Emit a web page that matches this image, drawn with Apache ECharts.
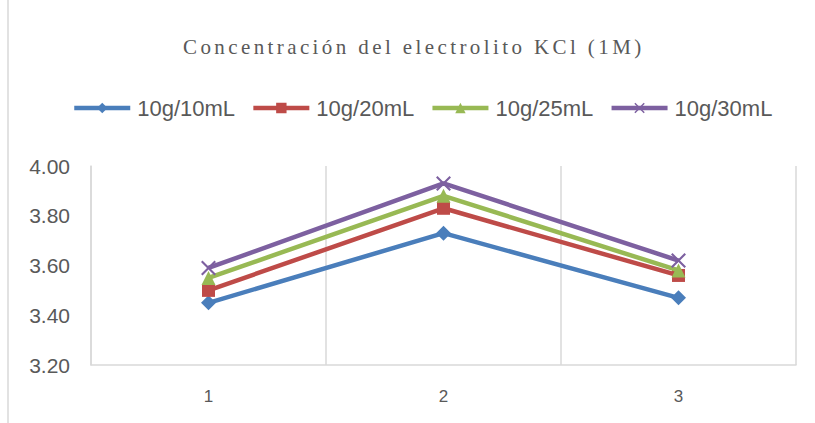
<!DOCTYPE html>
<html>
<head>
<meta charset="utf-8">
<script src="https://cdn.jsdelivr.net/npm/echarts@6/dist/echarts.min.js"></script>
<style>
  html, body { margin: 0; padding: 0; background: #ffffff; }
  #chart { width: 815px; height: 423px; }
  /* spaced-out serif heading */
  #chart text[style*="Serif"], #chart text[font-family*="Serif"] { letter-spacing: 3.4px; }
</style>
</head>
<body>
<div id="chart"></div>
<script>
const titleText = 'Concentración del electrolito KCl (1M)';
const categories = ['1', '2', '3'];
const seriesNames = ['10g/10mL', '10g/20mL', '10g/25mL', '10g/30mL'];
const s10mL = [3.45, 3.73, 3.47];
const s20mL = [3.50, 3.83, 3.56];
const s25mL = [3.55, 3.88, 3.58];
const s30mL = [3.59, 3.93, 3.62];
const yTicks = { min: 3.2, max: 4.0, interval: 0.2 };

const colors = ['#4A7EBB', '#BE4B48', '#98B954', '#7D60A0'];
const crossPath = 'path://M1,0 L5,4 L9,0 L10,1 L6,5 L10,9 L9,10 L5,6 L1,10 L0,9 L4,5 L0,1 Z';
const symbols = ['diamond', 'rect', 'triangle', crossPath];
const symbolSizes = [15, 13, 14, 15];
const values = [s10mL, s20mL, s25mL, s30mL];

const chart = echarts.init(document.getElementById('chart'), null, { renderer: 'svg' });

const series = seriesNames.map((name, i) => ({
  name: name,
  type: 'line',
  data: values[i],
  symbol: symbols[i],
  symbolSize: symbolSizes[i],
  showAllSymbol: true,
  lineStyle: { color: colors[i], width: 4.5 },
  itemStyle: { color: colors[i], borderWidth: 0 },
  emphasis: { disabled: true },
  animation: false,
  z: 2 + i
}));

chart.setOption({
  animation: false,
  color: colors,
  title: {
    text: titleText,
    left: 178,
    top: 31,
    textStyle: {
      fontFamily: 'Liberation Serif',
      fontWeight: 'normal',
      fontSize: 21,
      color: '#595959'
    }
  },
  legend: {
    data: seriesNames,
    top: 92,
    left: 67,
    itemWidth: 56,
    itemHeight: 13,
    itemGap: 16,
    lineStyle: { width: 4.5 },
    textStyle: {
      fontFamily: 'Liberation Sans',
      fontSize: 22,
      color: '#595959',
      padding: [0, 0, 0, 2]
    }
  },
  grid: { left: 91, right: 19, top: 166, bottom: 58, containLabel: false },
  xAxis: {
    type: 'category',
    data: categories,
    boundaryGap: true,
    axisLine: { show: true, lineStyle: { color: '#D9D9D9', width: 1.5 } },
    axisTick: { show: false },
    axisLabel: {
      margin: 23,
      fontFamily: 'Liberation Sans',
      fontSize: 17,
      color: '#595959'
    },
    splitLine: {
      show: true,
      interval: 0,
      showMinLine: true,
      showMaxLine: true,
      lineStyle: { color: '#D9D9D9', width: 1.5 }
    }
  },
  yAxis: {
    type: 'value',
    min: yTicks.min,
    max: yTicks.max,
    interval: yTicks.interval,
    axisLine: { show: true, lineStyle: { color: '#D9D9D9', width: 1.5 } },
    axisTick: { show: false },
    splitLine: { show: false },
    axisLabel: {
      margin: 21,
      fontFamily: 'Liberation Sans',
      fontSize: 21,
      color: '#595959',
      formatter: v => v.toFixed(2)
    }
  },
  graphic: [{
    type: 'line',
    shape: { x1: 8, y1: 0, x2: 8, y2: 423 },
    style: { stroke: '#D9D9D9', lineWidth: 1.5 },
    silent: true
  }],
  series: series
});
</script>
</body>
</html>
